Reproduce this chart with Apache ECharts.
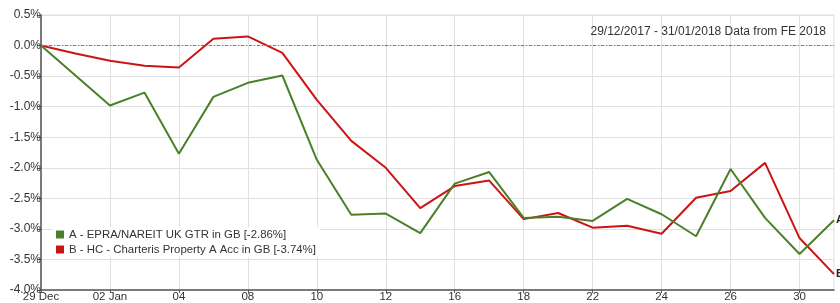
<!DOCTYPE html>
<html>
<head>
<meta charset="utf-8">
<script src="https://cdn.jsdelivr.net/npm/echarts@6/dist/echarts.min.js"></script>
<style>
  html, body { margin: 0; padding: 0; background: #fff; }
  #chart { width: 840px; height: 303px; }
</style>
</head>
<body>
<div id="chart"></div>
<script>
// trading days 29/12/2017 - 31/01/2018 (01 Jan included)
const days = ['29 Dec', '01 Jan', '02 Jan', '03', '04', '05', '08', '09', '10', '11', '12',
  '15', '16', '17', '18', '19', '22', '23', '24', '25', '26', '29', '30', '31']

const seriesA = [0, -0.49, -0.98, -0.77, -1.77, -0.84, -0.61, -0.49, -1.87, -2.77, -2.75,
  -3.07, -2.26, -2.07, -2.82, -2.80, -2.87, -2.51, -2.76, -3.12, -2.02, -2.82, -3.41, -2.86]

const seriesB = [0, -0.13, -0.25, -0.33, -0.36, 0.11, 0.15, -0.12, -0.89, -1.56, -2.0,
  -2.66, -2.30, -2.21, -2.84, -2.74, -2.98, -2.95, -3.08, -2.49, -2.38, -1.92, -3.15, -3.74]

const nameA = 'A - EPRA/NAREIT UK GTR in GB [-2.86%]'
const nameB = 'B - HC - Charteris Property A Acc in GB [-3.74%]'
const subText = '29/12/2017 - 31/01/2018 Data from FE 2018'

const font = 'Liberation Sans, Arial, sans-serif'
const chart = echarts.init(document.getElementById('chart'))

const option = {
  animation: false,
  textStyle: { fontFamily: font },
  title: {
    text: subText,
    right: 9,
    top: 21,
    textStyle: { fontSize: 12, fontWeight: 'normal', color: '#333', fontFamily: font }
  },
  legend: {
    data: [nameA, nameB],
    orient: 'vertical',
    left: 52,
    top: 227,
    icon: 'rect',
    itemWidth: 8,
    itemHeight: 8,
    itemGap: 4,
    padding: [2, 4],
    backgroundColor: '#fff',
    textStyle: { fontSize: 11.4, color: '#333', fontFamily: font }
  },
  grid: {
    left: 41,
    right: 6,
    top: 15,
    bottom: 11,
    show: true,
    borderColor: '#e0e0e0',
    borderWidth: 1
  },
  xAxis: {
    type: 'category',
    data: days,
    boundaryGap: false,
    axisLine: { onZero: false, lineStyle: { color: '#555', width: 1.5 } },
    axisTick: { interval: 1, length: 3, lineStyle: { color: '#555' } },
    axisLabel: { interval: 1, fontSize: 11.5, color: '#333', margin: 1, fontFamily: font },
    splitLine: { show: true, interval: 1, lineStyle: { color: '#e0e0e0', width: 1 } }
  },
  yAxis: {
    type: 'value',
    min: -4,
    max: 0.5,
    interval: 0.5,
    axisLine: { show: true, lineStyle: { color: '#555', width: 1.5 } },
    axisTick: { show: true, length: 4, lineStyle: { color: '#555' } },
    axisLabel: {
      fontSize: 12, color: '#333', margin: 0, fontFamily: font,
      formatter: v => v.toFixed(1) + '%'
    },
    splitLine: { lineStyle: { color: '#e0e0e0', width: 1 } }
  },
  series: [
    {
      name: nameA,
      type: 'line',
      data: seriesA,
      symbol: 'none',
      color: '#4b8028',
      lineStyle: { width: 2 },
      endLabel: {
        show: true, formatter: 'A', color: '#222', fontWeight: 'bold', fontSize: 11,
        distance: 2, fontFamily: font
      },
      markLine: {
        silent: true,
        symbol: 'none',
        label: { show: false },
        lineStyle: { color: '#777', type: [3, 2, 1, 2], width: 1 },
        data: [{ yAxis: 0 }]
      },
      z: 3
    },
    {
      name: nameB,
      type: 'line',
      data: seriesB,
      symbol: 'none',
      color: '#cc1414',
      lineStyle: { width: 2 },
      endLabel: {
        show: true, formatter: 'B', color: '#222', fontWeight: 'bold', fontSize: 11,
        distance: 2, fontFamily: font
      },
      z: 2
    }
  ]
}

chart.setOption(option)
</script>
</body>
</html>
